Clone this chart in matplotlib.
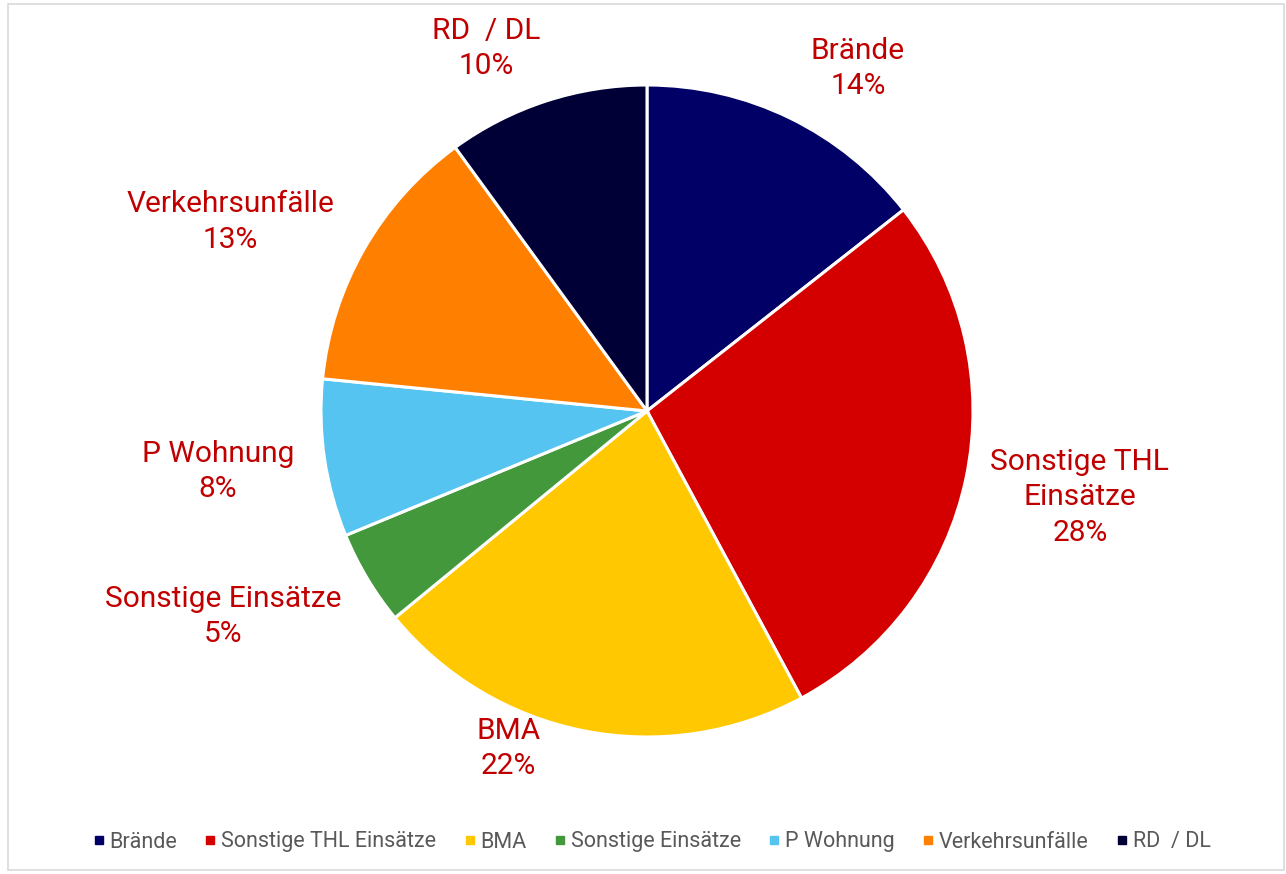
import matplotlib.pyplot as plt
from matplotlib.lines import Line2D
from matplotlib.patches import Rectangle

# data
categories = ["Brände", "Sonstige THL\nEinsätze", "BMA", "Sonstige Einsätze",
              "P Wohnung", "Verkehrsunfälle", "RD  / DL"]
legend_names = ["Brände", "Sonstige THL Einsätze", "BMA", "Sonstige Einsätze",
                "P Wohnung", "Verkehrsunfälle", "RD  / DL"]
shares = [14.4, 27.7, 21.9, 4.7, 7.8, 13.4, 10.0]
colors = ["#000066", "#D40000", "#FFC800", "#43983C", "#56C4F0", "#FF7F00", "#000036"]

# label positions (in pie radius units)
label_pos = [(0.647, 1.05), (1.328, -0.265), (-0.426, -1.035), (-1.30, -0.63),
             (-1.316, -0.185), (-1.279, 0.58), (-0.494, 1.113)]

plt.rcParams['font.family'] = ['Roboto', 'DejaVu Sans']

fig = plt.figure(figsize=(12.86, 8.74), dpi=100)
ax = fig.add_axes([321 / 1286, 137 / 874, 652 / 1286, 652 / 874])

wedges, _ = ax.pie(shares, colors=colors, startangle=90, counterclock=False,
                   radius=1.0, wedgeprops=dict(edgecolor="white", linewidth=2.2))
ax.set_xlim(-1, 1)
ax.set_ylim(-1, 1)
ax.set_aspect("equal")

total = sum(shares)
for name, val, (x, y) in zip(categories, shares, label_pos):
    pct = round(val / total * 100)
    ax.text(x, y, f"{name}\n{pct}%", ha="center", va="center", fontsize=21.5,
            color="#C00000", linespacing=1.33, clip_on=False)

handles = [Line2D([], [], marker="s", linestyle="", markersize=6,
                  markerfacecolor=c, markeredgecolor=c) for c in colors]
fig.legend(handles, legend_names, loc="center", bbox_to_anchor=(0.506, 1 - 842 / 874),
           ncol=7, frameon=False, fontsize=15.5, labelcolor="#595959",
           handletextpad=0.15, columnspacing=1.2, handlelength=0.7)

# light frame around the chart
fig.patches.append(Rectangle((8 / 1286, 4 / 874), 1 - 8 / 1286 - 2 / 1286, 1 - 8 / 874,
                             transform=fig.transFigure, fill=False,
                             edgecolor="#D9D9D9", linewidth=1.2))

fig.savefig("out.png", dpi=100)
